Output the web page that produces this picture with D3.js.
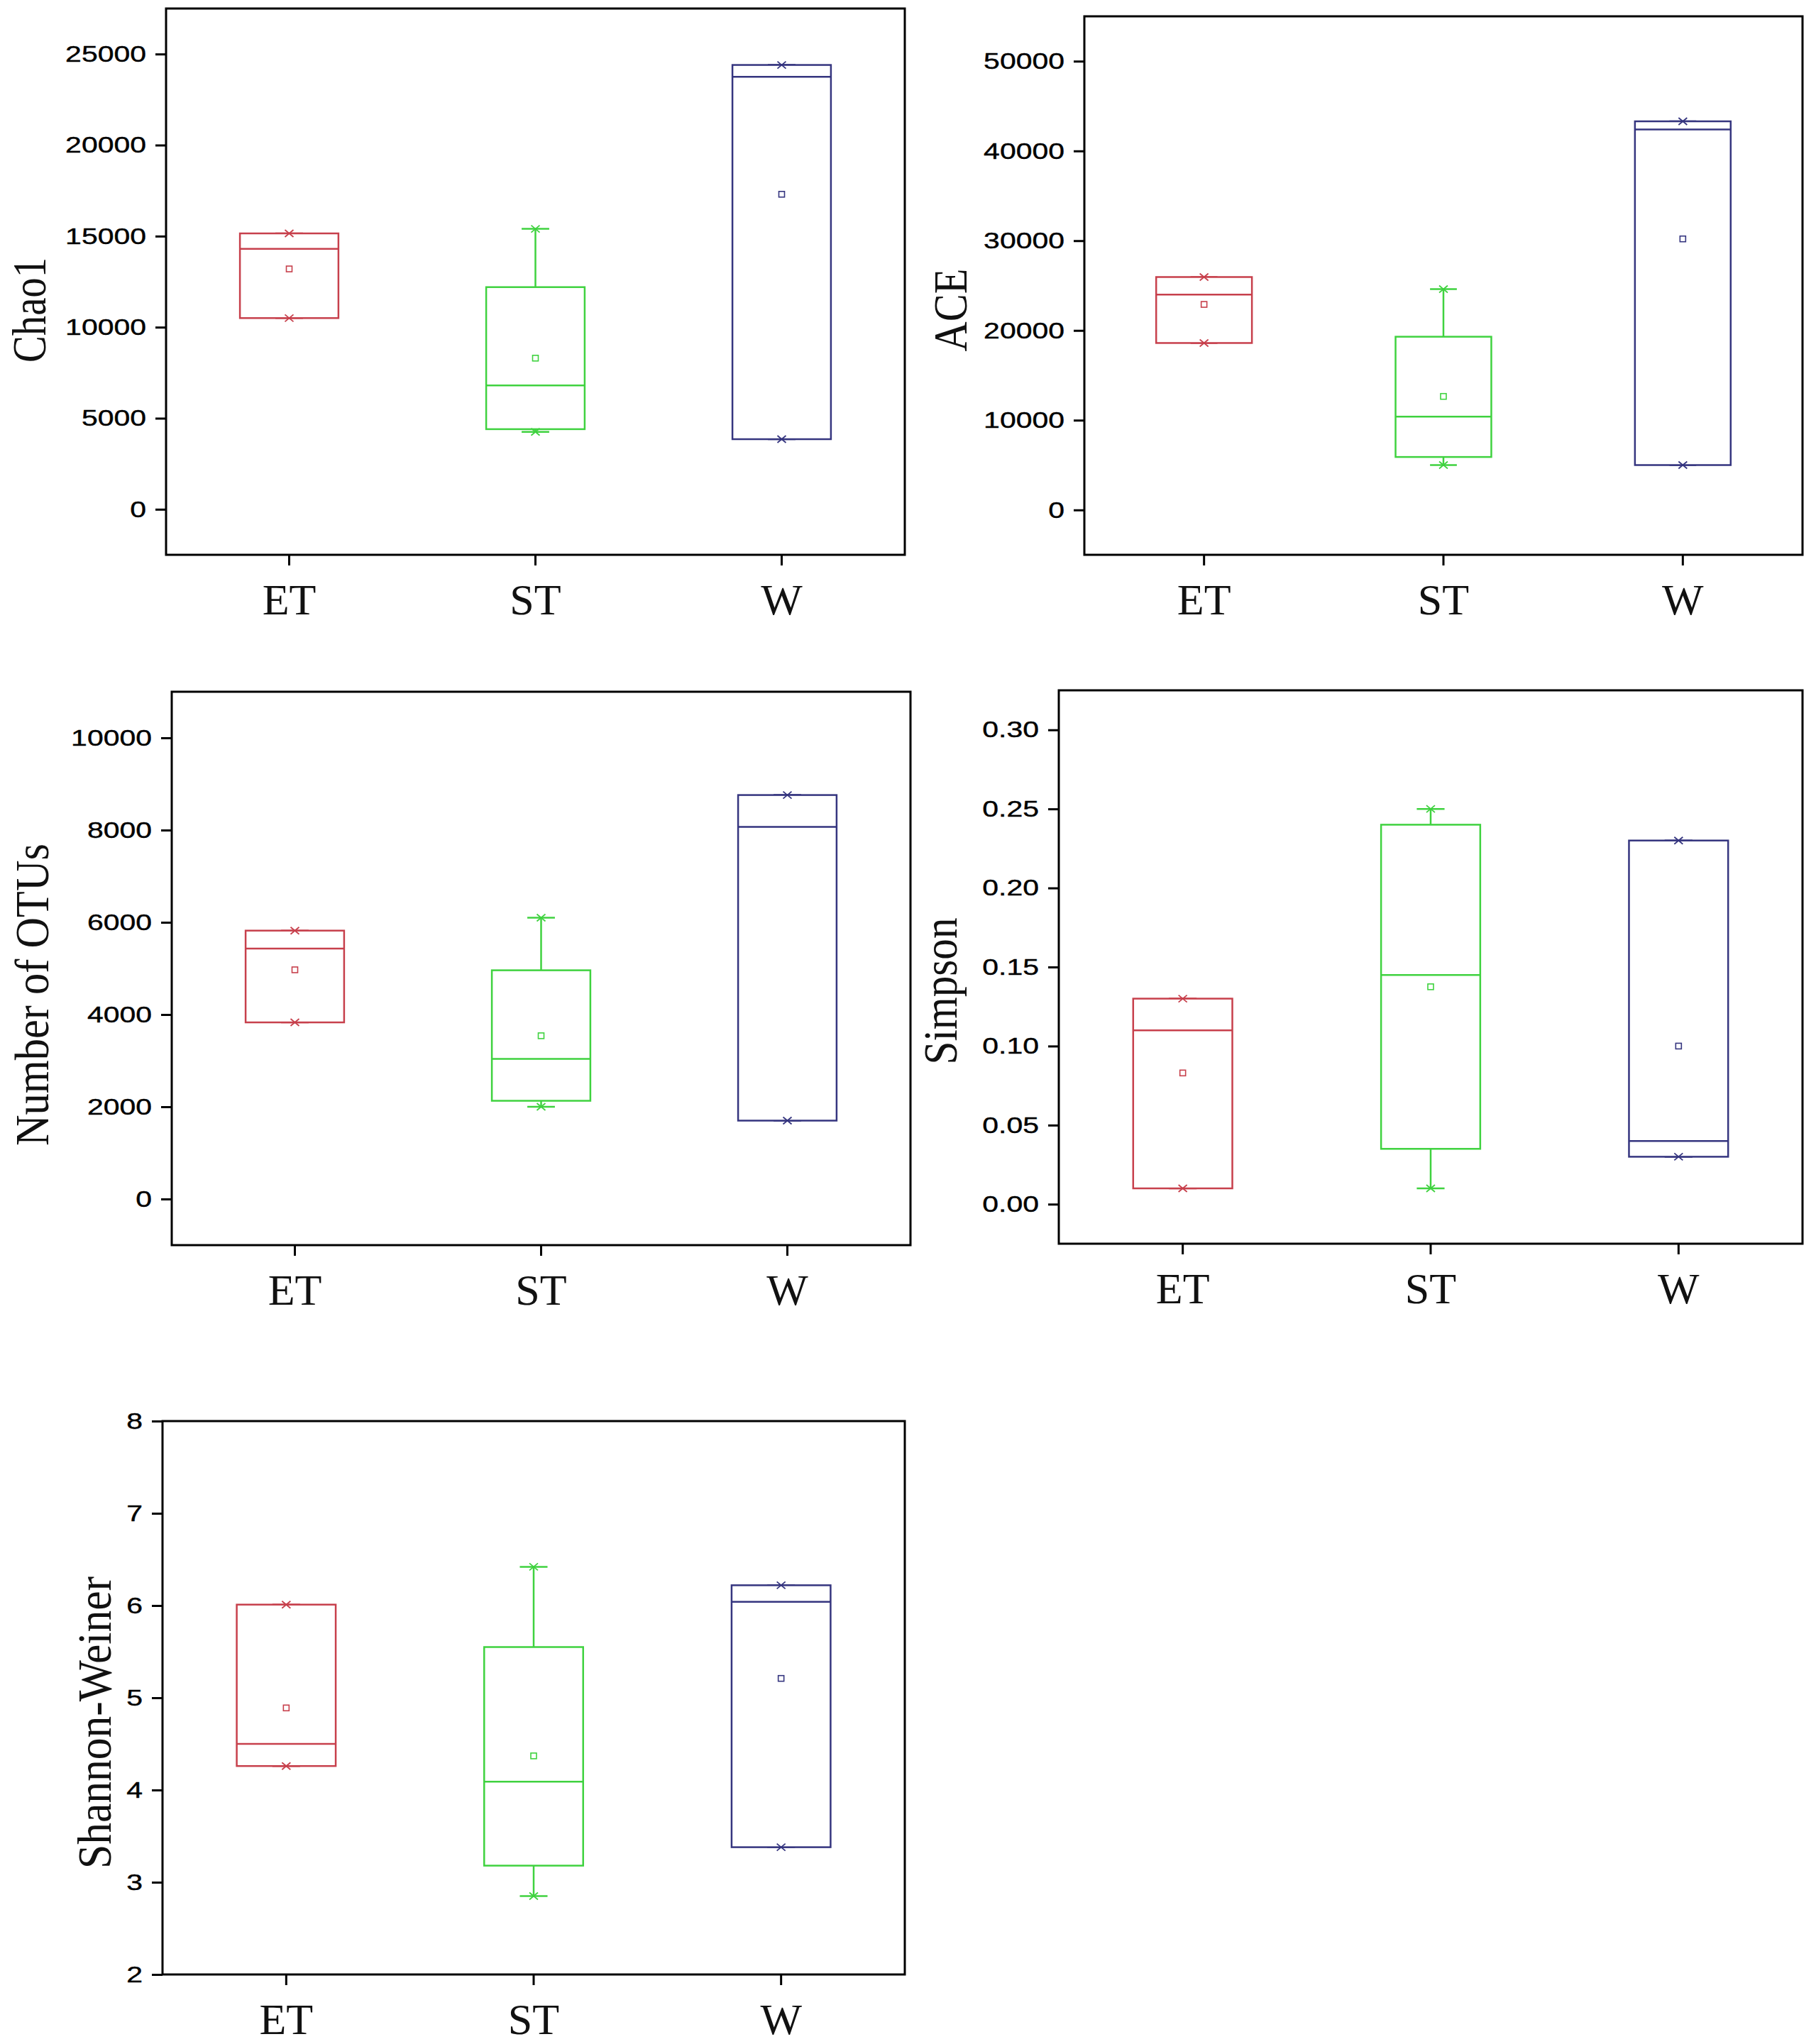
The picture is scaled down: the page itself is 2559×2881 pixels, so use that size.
<!DOCTYPE html>
<html>
<head>
<meta charset="utf-8">
<script src="https://cdn.jsdelivr.net/npm/d3@7"></script>
<style>
  body { margin: 0; background: #fff; }
</style>
</head>
<body>
<div id="chart"></div>
<script>
// groups and colours
const groups = ["ET", "ST", "W"];
const groupColors = ["#c7404c", "#3fd23f", "#35357f"];

// each row: min, q1, median, q3, max, mean (one row per group)
const chao1Stats = [
    [10500, 10500, 14300, 15150, 15150, 13200],
    [4250, 4400, 6800, 12200, 15400, 8300],
    [3850, 3850, 23750, 24400, 24400, 17300]
];
const aceStats = [
    [18600, 18600, 24000, 25950, 25950, 22900],
    [5000, 5900, 10400, 19300, 24600, 12650],
    [5000, 5000, 42400, 43300, 43300, 30200]
];
const otuStats = [
    [3830, 3830, 5430, 5820, 5820, 4970],
    [2000, 2130, 3040, 4960, 6100, 3540],
    [1700, 1700, 8070, 8760, 8760, null]
];
const simpsonStats = [
    [0.01, 0.01, 0.11, 0.13, 0.13, 0.083],
    [0.01, 0.035, 0.145, 0.24, 0.25, 0.1375],
    [0.03, 0.03, 0.04, 0.23, 0.23, 0.10]
];
const shannonStats = [
    [4.26, 4.26, 4.50, 6.01, 6.01, 4.89],
    [2.85, 3.18, 4.09, 5.55, 6.42, 4.37],
    [3.38, 3.38, 6.04, 6.22, 6.22, 5.21]
];

// tick labels
const chao1Ticks = [0, 5000, 10000, 15000, 20000, 25000];
const aceTicks = [0, 10000, 20000, 30000, 40000, 50000];
const otuTicks = [0, 2000, 4000, 6000, 8000, 10000];
const simpsonTicks = [0, 0.05, 0.10, 0.15, 0.20, 0.25, 0.30];
const shannonTicks = [2, 3, 4, 5, 6, 7, 8];

const svg = d3.select("#chart").append("svg")
    .attr("width", 2559)
    .attr("height", 2881)
    .style("background", "#fff");

// one box chart panel
function drawPanel(p) {
    const g = svg.append("g");

    const x = d3.scaleBand().domain(groups).range([p.left, p.right]);
    const y = d3.scaleLinear().domain(p.domain).range([p.bottom, p.top]);
    const bw = x.bandwidth() * 0.4;
    const cx = d => x(d) + x.bandwidth() / 2;

    // y axis
    const yAxis = g.append("g")
        .attr("transform", "translate(" + p.left + ",0)")
        .call(d3.axisLeft(y).tickValues(p.ticks).tickSize(15).tickPadding(13).tickFormat(p.format));
    yAxis.select(".domain").remove();
    yAxis.selectAll("line").attr("stroke", "#000").attr("stroke-width", 3);
    yAxis.selectAll("text")
        .attr("fill", "#000")
        .style("font-family", "'Liberation Sans', Arial, sans-serif")
        .style("font-size", "32px")
        .attr("stroke", "#000")
        .attr("stroke-width", 0.4)
        .each(function () {
            const w = this.getComputedTextLength();
            d3.select(this).attr("textLength", w * 1.28).attr("lengthAdjust", "spacingAndGlyphs");
        });

    // x axis
    const xAxis = g.append("g")
        .attr("transform", "translate(0," + p.bottom + ")")
        .call(d3.axisBottom(x).tickSize(15));
    xAxis.select(".domain").remove();
    xAxis.selectAll("line").attr("stroke", "#000").attr("stroke-width", 3);
    xAxis.selectAll("text")
        .attr("y", 84)
        .attr("dy", 0)
        .attr("fill", "#111")
        .style("font-family", "'Liberation Serif', 'Times New Roman', serif")
        .style("font-size", "62px");

    // frame
    g.append("rect")
        .attr("x", p.left)
        .attr("y", p.top)
        .attr("width", p.right - p.left)
        .attr("height", p.bottom - p.top)
        .attr("fill", "none")
        .attr("stroke", "#000")
        .attr("stroke-width", 3);

    // axis title
    g.append("text")
        .attr("transform", "translate(" + p.titleX + "," + p.titleY + ") rotate(-90)")
        .attr("text-anchor", "middle")
        .attr("fill", "#111")
        .style("font-family", "'Liberation Serif', 'Times New Roman', serif")
        .style("font-size", "68px")
        .attr("textLength", p.titleLength)
        .attr("lengthAdjust", "spacingAndGlyphs")
        .text(p.title);

    const rows = groups.map((name, i) => ({ name: name, color: groupColors[i], s: p.stats[i] }));

    const box = g.selectAll(".box").data(rows).enter().append("g")
        .attr("class", "box")
        .attr("stroke", d => d.color)
        .attr("fill", "none")
        .attr("stroke-width", 2.5);

    // whiskers
    box.append("line")
        .attr("x1", d => cx(d.name)).attr("x2", d => cx(d.name))
        .attr("y1", d => y(d.s[3])).attr("y2", d => y(d.s[4]));
    box.append("line")
        .attr("x1", d => cx(d.name)).attr("x2", d => cx(d.name))
        .attr("y1", d => y(d.s[1])).attr("y2", d => y(d.s[0]));
    // caps
    [0, 4].forEach(k => {
        box.append("line")
            .attr("x1", d => cx(d.name) - bw * 0.14).attr("x2", d => cx(d.name) + bw * 0.14)
            .attr("y1", d => y(d.s[k])).attr("y2", d => y(d.s[k]));
    });

    // box
    box.append("rect")
        .attr("x", d => cx(d.name) - bw / 2)
        .attr("width", bw)
        .attr("y", d => y(d.s[3]))
        .attr("height", d => y(d.s[1]) - y(d.s[3]))
        .attr("fill", "#fff");

    // median
    box.append("line")
        .attr("x1", d => cx(d.name) - bw / 2).attr("x2", d => cx(d.name) + bw / 2)
        .attr("y1", d => y(d.s[2])).attr("y2", d => y(d.s[2]));

    // min / max markers
    [0, 4].forEach(k => {
        box.append("path")
            .attr("stroke-width", 1.8)
            .attr("d", d => {
                const px = cx(d.name), py = y(d.s[k]);
                return "M" + (px - 6) + "," + (py - 5) + "L" + (px + 6) + "," + (py + 5)
                    + "M" + (px - 6) + "," + (py + 5) + "L" + (px + 6) + "," + (py - 5);
            });
    });

    // mean
    box.filter(d => d.s[5] !== null).append("rect")
        .attr("stroke-width", 1.6)
        .attr("x", d => cx(d.name) - 4)
        .attr("y", d => y(d.s[5]) - 4)
        .attr("width", 8)
        .attr("height", 8);
}

drawPanel({ stats: chao1Stats, ticks: chao1Ticks, format: d3.format("d"), domain: [-2500, 27500],
    left: 234, right: 1275, top: 12, bottom: 782,
    title: "Chao1", titleX: 64, titleY: 437, titleLength: 148 });

drawPanel({ stats: aceStats, ticks: aceTicks, format: d3.format("d"), domain: [-5000, 55000],
    left: 1528, right: 2540, top: 23, bottom: 782,
    title: "ACE", titleX: 1362, titleY: 437, titleLength: 117 });

drawPanel({ stats: otuStats, ticks: otuTicks, format: d3.format("d"), domain: [-1000, 11000],
    left: 242, right: 1283, top: 975, bottom: 1755,
    title: "Number of OTUs", titleX: 68, titleY: 1402, titleLength: 426 });

drawPanel({ stats: simpsonStats, ticks: simpsonTicks, format: d3.format(".2f"), domain: [-0.025, 0.325],
    left: 1492, right: 2540, top: 973, bottom: 1753,
    title: "Simpson", titleX: 1348, titleY: 1397, titleLength: 207 });

drawPanel({ stats: shannonStats, ticks: shannonTicks, format: d3.format("d"), domain: [2, 8],
    left: 229, right: 1275, top: 2003, bottom: 2783,
    title: "Shannon-Weiner", titleX: 156, titleY: 2428, titleLength: 412 });
</script>
</body>
</html>
